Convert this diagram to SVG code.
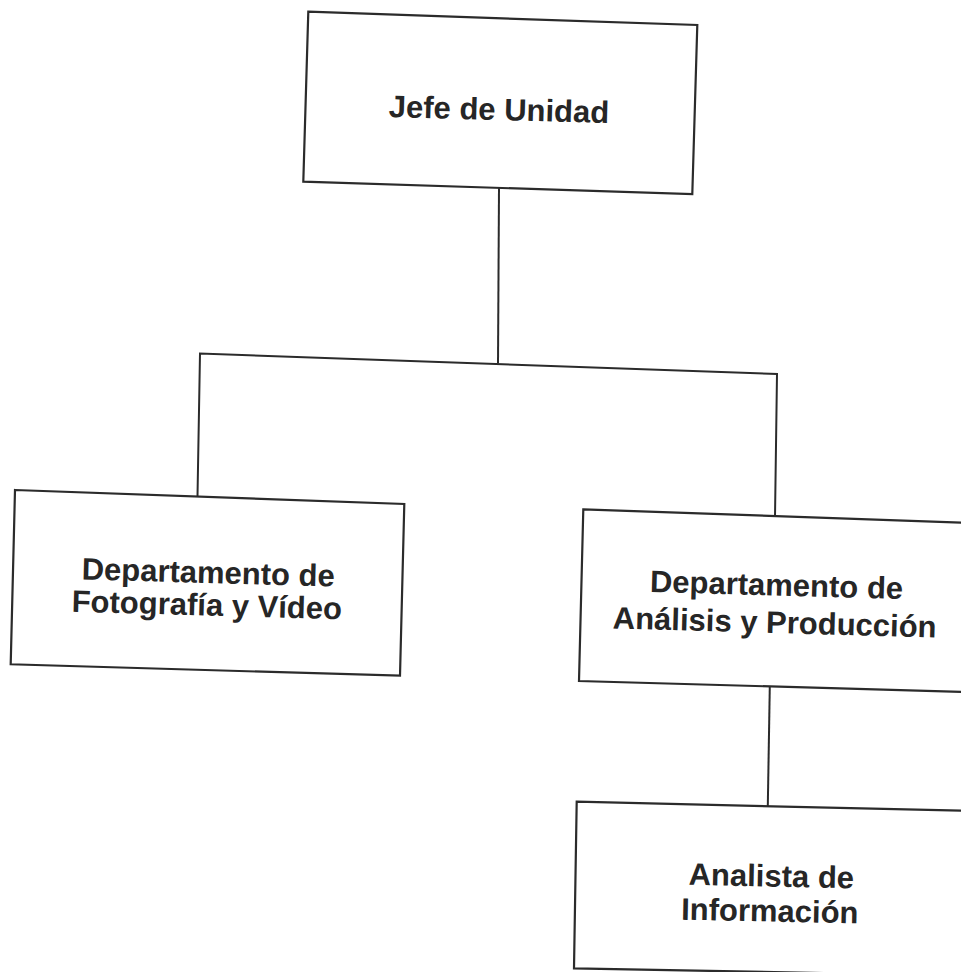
<svg xmlns="http://www.w3.org/2000/svg" width="961" height="972" viewBox="0 0 961 972">
<style>
.box{fill:#fff;stroke:#2b2b2b;stroke-width:2.2;stroke-linejoin:miter}
.con{fill:none;stroke:#2b2b2b;stroke-width:2}
.t{font-family:"Liberation Sans",Arial,sans-serif;font-weight:bold;font-size:31px;fill:#262626;text-anchor:middle}
</style>
<rect width="961" height="972" fill="#fff"/>
<g id="connectors">
<path class="con" d="M499,188 L498,363.5"/>
<path class="con" d="M197.5,496 L200,353.5 L777,374 L775,517"/>
<path class="con" d="M769.8,686 L767.8,806"/>
</g>
<g id="jefe">
<polygon class="box" points="308.3,11.7 697.3,25 692.3,194 303.3,181.7"/>
<text class="t" x="499" y="120" transform="rotate(1.6 499 110)">Jefe de Unidad</text>
</g>
<g id="fotografia">
<polygon class="box" points="15,490 404.3,504 400,675.7 10.7,664.3"/>
<text class="t" transform="rotate(1.6 207 600)"><tspan x="207.5" y="583">Departamento de</tspan><tspan x="207" y="615.5">Fotografía y Vídeo</tspan></text>
</g>
<g id="analisis">
<polygon class="box" points="583.3,509.3 975,523.2 975,692.2 579,681"/>
<text class="t" transform="rotate(1.6 775 612)"><tspan x="775.8" y="595.5">Departamento de</tspan><tspan x="775" y="633">Análisis y Producción</tspan></text>
</g>
<g id="analista">
<polygon class="box" points="576.7,801.7 975,811 975,976 574,968.3"/>
<text class="t" transform="rotate(1.2 770 903)"><tspan x="770.8" y="886.5">Analista de</tspan><tspan x="770" y="921.5">Información</tspan></text>
</g>
</svg>
